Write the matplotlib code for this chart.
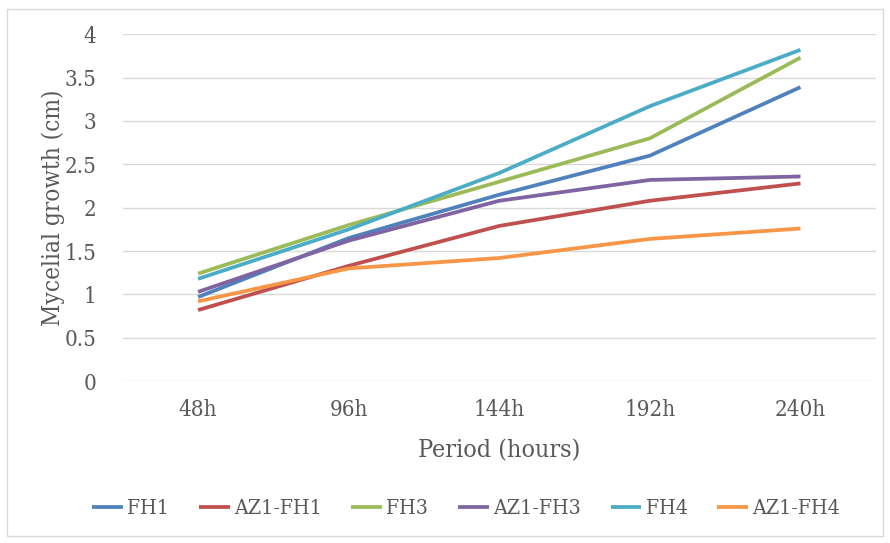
import matplotlib
matplotlib.use("Agg")
import matplotlib.pyplot as plt
from matplotlib.patches import Rectangle

periods = ["48h", "96h", "144h", "192h", "240h"]
fh1 = [0.97, 1.65, 2.15, 2.60, 3.39]
az1_fh1 = [0.82, 1.33, 1.79, 2.08, 2.28]
fh3 = [1.24, 1.80, 2.30, 2.80, 3.73]
az1_fh3 = [1.03, 1.62, 2.08, 2.32, 2.36]
fh4 = [1.18, 1.75, 2.40, 3.17, 3.82]
az1_fh4 = [0.92, 1.30, 1.42, 1.64, 1.76]

series = [
    ("FH1", fh1, "#4F81BD"),
    ("AZ1-FH1", az1_fh1, "#C0504D"),
    ("FH3", fh3, "#9BBB59"),
    ("AZ1-FH3", az1_fh3, "#8064A2"),
    ("FH4", fh4, "#4BACC6"),
    ("AZ1-FH4", az1_fh4, "#F79646"),
]

plt.rcParams['font.family'] = ['DejaVu Serif']
plt.rcParams['font.stretch'] = 'condensed'
txt = "#595959"

fig = plt.figure(figsize=(8.9, 5.43), dpi=100)
fig.patches.append(Rectangle((0.008, 0.012), 0.984, 0.972, transform=fig.transFigure,
                             fill=False, edgecolor="#d9d9d9", linewidth=1))
ax = fig.add_axes([0.138, 0.298, 0.846, 0.639])

x = range(len(periods))
for name, vals, col in series:
    ax.plot(x, vals, color=col, linewidth=2.7, label=name, solid_capstyle="butt")

ax.set_xlim(-0.5, len(periods) - 0.5)
ax.set_ylim(0, 4)
ax.set_yticks([0, 0.5, 1, 1.5, 2, 2.5, 3, 3.5, 4])
ax.set_yticklabels(["0", "0.5", "1", "1.5", "2", "2.5", "3", "3.5", "4"])
ax.set_xticks(list(x))
ax.set_xticklabels(periods)
ax.yaxis.grid(True, color="#d9d9d9", linewidth=1)
ax.set_axisbelow(True)
for s in ax.spines.values():
    s.set_visible(False)
ax.tick_params(length=0, labelsize=16, colors=txt)
ax.tick_params(axis="y", pad=19)
ax.tick_params(axis="x", pad=13)

ax.set_xlabel("Period (hours)", fontsize=18, color=txt, labelpad=13)
ax.set_ylabel("Mycelial growth (cm)", fontsize=17.5, color=txt, labelpad=0)

ax.legend(loc="upper center", bbox_to_anchor=(0.456, -0.285), ncol=6, frameon=False,
          fontsize=15.3, labelcolor=txt, handlelength=1.45, handletextpad=0.2,
          columnspacing=1.4)

fig.savefig("out.png", dpi=100)
